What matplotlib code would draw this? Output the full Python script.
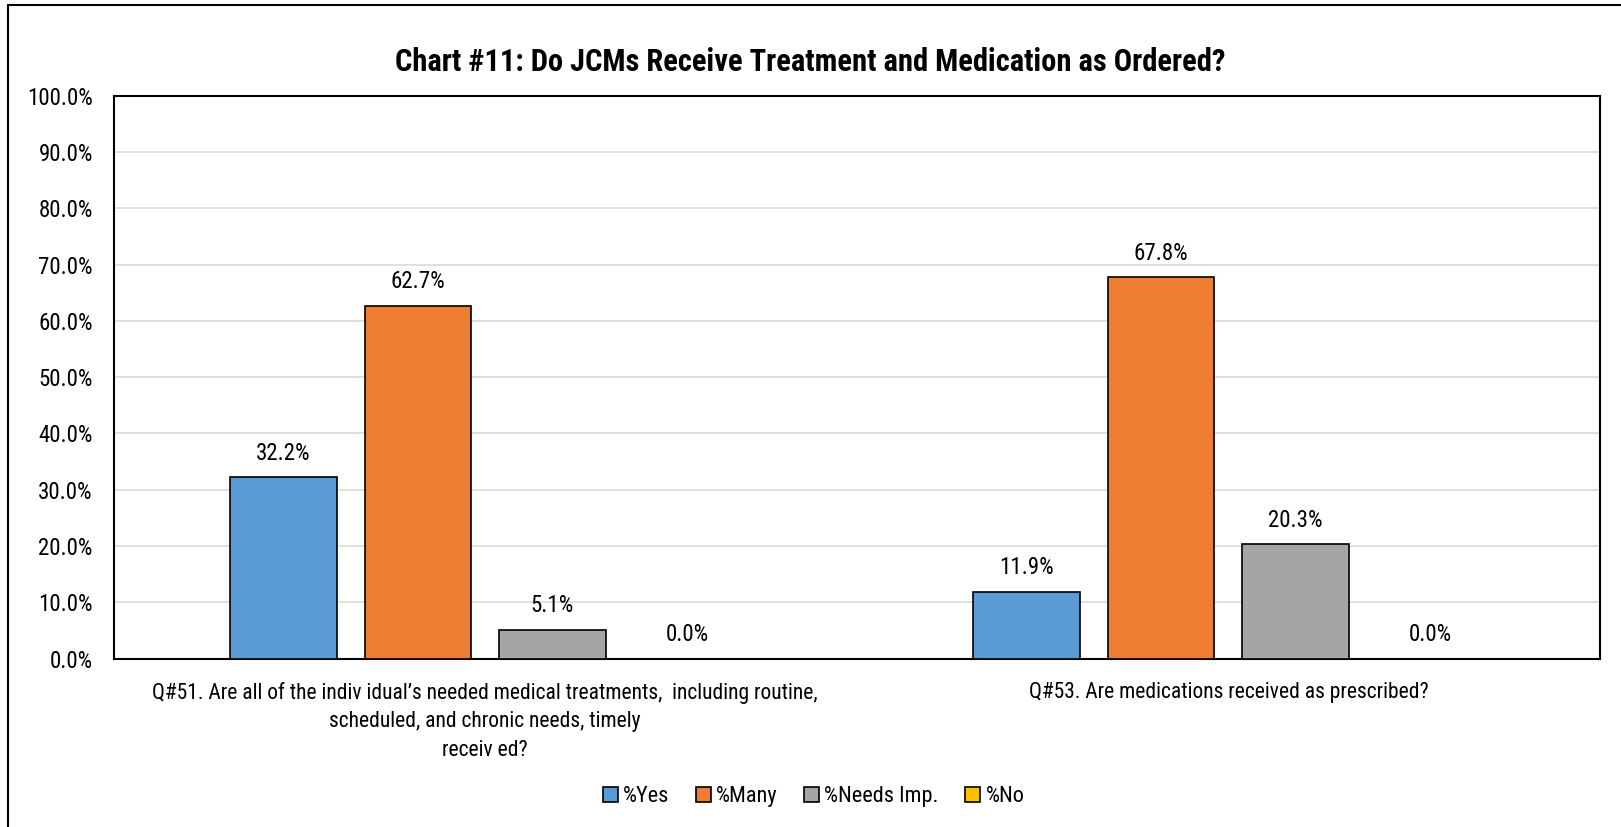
import matplotlib
matplotlib.use("Agg")
import matplotlib.pyplot as plt
import numpy as np
from matplotlib.patches import Rectangle, Patch

# * Data

categories = [
    "Q#51. Are all of the indiv idual\u2019s needed medical treatments,  including routine,\n"
    "scheduled, and chronic needs, timely\nreceiv ed?",
    "Q#53. Are medications received as prescribed?",
]
series_names = ["%Yes", "%Many", "%Needs Imp.", "%No"]
pct_yes = [32.2, 11.9]
pct_many = [62.7, 67.8]
pct_needs = [5.1, 20.3]
pct_no = [0.0, 0.0]
colors = ["#5B9BD5", "#ED7D31", "#A5A5A5", "#FFC000"]
yticks = np.arange(0, 101, 10)

# * Plot

# Arial Narrow look-alike
plt.rcParams['font.family'] = ['Roboto Condensed', 'DejaVu Sans']

fig = plt.figure(figsize=(16.21, 8.27), dpi=100)
ax = fig.add_axes([0.0701, 0.2037, 0.9169, 0.6803])

# outer chart frame
fig.patches.append(Rectangle((8 / 1621, -0.1), 1.2, 1 - 5 / 827 + 0.1,
                             transform=fig.transFigure, fill=False,
                             edgecolor="black", linewidth=1.5))

x = np.arange(len(categories))
width = 0.143
step = 0.181
all_series = [pct_yes, pct_many, pct_needs, pct_no]
for i, (vals, name, col) in enumerate(zip(all_series, series_names, colors)):
    pos = x + (i - 1.5) * step
    ax.bar(pos, vals, width, color=col, edgecolor="black", linewidth=1.2,
           label=name, zorder=3)
    for p, v in zip(pos, vals):
        ax.text(p, v + 2.2, "{:.1f}%".format(v), ha="center", va="bottom",
                fontsize=16.5)

ax.set_xlim(-0.5, 1.5)
ax.set_ylim(0, 100)
ax.set_yticks(yticks)
ax.set_yticklabels(["{:.1f}%".format(t) for t in yticks], fontsize=16.5)
ax.set_xticks(x)
ax.set_xticklabels(categories, fontsize=15.5, linespacing=1.45, va="top")
ax.tick_params(axis="x", length=0, pad=17)
ax.tick_params(axis="y", length=0, pad=15)
ax.yaxis.grid(True, color="#D9D9D9", linewidth=1.2, zorder=0)
ax.set_axisbelow(True)
for s in ax.spines.values():
    s.set_linewidth(1.5)
    s.set_color("black")

fig.text(0.5, 0.925, "Chart #11: Do JCMs Receive Treatment and Medication as Ordered?",
         ha="center", va="center", fontsize=22, fontweight="bold")

handles = [Patch(facecolor=c, edgecolor="black", linewidth=1.2) for c in colors]
fig.legend(handles, series_names, loc="center", bbox_to_anchor=(0.502, 0.037),
           ncol=4, frameon=False, fontsize=16, handlelength=0.65, handleheight=0.65,
           handletextpad=0.25, columnspacing=1.2)

plt.savefig("out.png", dpi=100)
